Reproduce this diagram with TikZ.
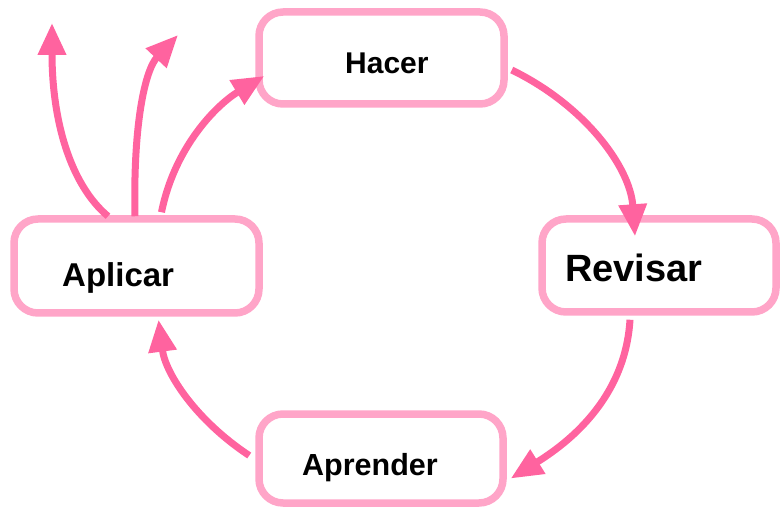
\documentclass[tikz,border=0pt]{standalone}
\usepackage{fontspec}
\setmainfont{Liberation Sans}
\usetikzlibrary{arrows.meta,calc}
\definecolor{arrowpink}{RGB}{255,99,159}
\definecolor{boxpink}{RGB}{255,165,200}
\tikzset{
  box/.style={draw=boxpink, line width=7.5pt, rounded corners=24pt, fill=white, inner sep=0pt},
  conn/.style={draw=arrowpink, line width=7pt, -{Triangle[length=32pt,width=27pt]}},
  lbl/.style={anchor=base west, inner sep=0pt, text=black, font=\bfseries}
}
\begin{document}
\begin{tikzpicture}[x=1pt,y=-1pt]
\useasboundingbox (0,0) rectangle (781,510);
% boxes
\node[box, minimum width=245pt, minimum height=92pt] (hacer) at (381.5,58) {};
\node[box, minimum width=245pt, minimum height=94pt] (aplicar) at (136.5,266) {};
\node[box, minimum width=234pt, minimum height=93pt] (revisar) at (659,265.5) {};
\node[box, minimum width=244pt, minimum height=89pt] (aprender) at (381,458.5) {};
% free ends
\coordinate (up1) at (52,23);
\coordinate (up2) at (178,35);
% connectors
\draw[conn] ([shift={(4pt,-12pt)}]hacer.east) .. controls +(72,35) and +(-5,-70) .. ([shift={(-24pt,-21pt)}]revisar.north);
\draw[conn] ([shift={(-29pt,-4pt)}]revisar.south) .. controls +(-5,82) and +(53,-33) .. ([shift={(4pt,-20pt)}]aprender.east);
\draw[conn] ([shift={(-6pt,3pt)}]aprender.west) .. controls +(-53,-35) and +(7,54) .. ([shift={(22pt,-3pt)}]aplicar.south);
\draw[conn] ([shift={(25pt,3pt)}]aplicar.north) .. controls +(13,-65) and +(-48,29) .. ([shift={(9pt,-18pt)}]hacer.west);
\draw[conn] ([shift={(-28.5pt,-1pt)}]aplicar.north) .. controls +(-38,-32) and +(0,97) .. (up1);
\draw[conn] ([shift={(-1.5pt,-1pt)}]aplicar.north) .. controls +(-2,-92) and +(-33,35) .. (up2);
% labels
\node[lbl, font=\bfseries\fontsize{30}{32}\selectfont] (thacer) at (345,74) {Hacer};
\node[lbl, font=\bfseries\fontsize{33}{35}\selectfont] (taplicar) at (62,287) {Aplicar};
\node[lbl, font=\bfseries\fontsize{38}{40}\selectfont] (trevisar) at (565,282) {Revisar};
\node[lbl, font=\bfseries\fontsize{30.5}{32}\selectfont] (taprender) at (302,475) {Aprender};
\end{tikzpicture}
\end{document}
